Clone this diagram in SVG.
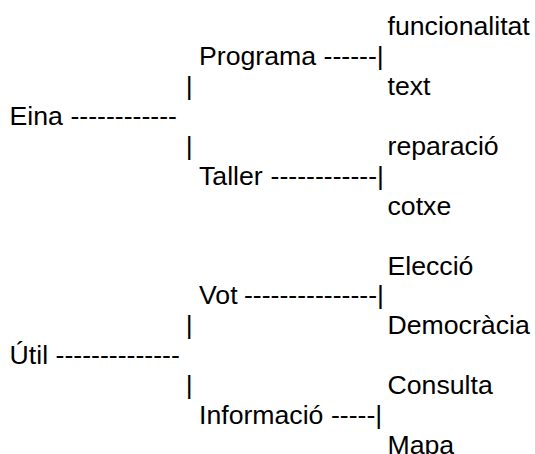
<svg xmlns="http://www.w3.org/2000/svg" width="535" height="454" viewBox="0 0 535 454">
<style>
text{font-family:"Liberation Sans",Arial,sans-serif;font-size:26.67px;fill:#000;}
</style>
<rect width="535" height="454" fill="#fff"/>
<g id="connectors">
<text x="70.4" y="124.8">------------</text>
<text x="185.8" y="94.6">|</text>
<text x="185.8" y="154.6">|</text>
<text x="323.5" y="64.8">------|</text>
<text x="270.6" y="184.6">------------|</text>
<text x="55.5" y="364.4">--------------</text>
<text x="185.8" y="334.4">|</text>
<text x="185.8" y="394.4">|</text>
<text x="243.9" y="304.4">---------------|</text>
<text x="330.9" y="424.2">-----|</text>
</g>
<g id="eina"><text x="9.6" y="124.8">Eina</text></g>
<g id="programa"><text x="199" y="64.8">Programa</text></g>
<g id="taller"><text x="199" y="184.6">Taller</text></g>
<g id="funcionalitat"><text x="387.5" y="34.5">funcionalitat</text></g>
<g id="text"><text x="387.5" y="94.6">text</text></g>
<g id="reparacio"><text x="387.5" y="154.6">reparació</text></g>
<g id="cotxe"><text x="387.5" y="214.5">cotxe</text></g>
<g id="util"><text x="9.6" y="364.4">Útil</text></g>
<g id="vot"><text x="199" y="304.4">Vot</text></g>
<g id="informacio"><text x="199" y="424.2">Informació</text></g>
<g id="eleccio"><text x="387.5" y="274.5">Elecció</text></g>
<g id="democracia"><text x="387.5" y="334.4">Democràcia</text></g>
<g id="consulta"><text x="387.5" y="394.4">Consulta</text></g>
<g id="mapa"><text x="387.5" y="453.5">Mapa</text></g>
</svg>
